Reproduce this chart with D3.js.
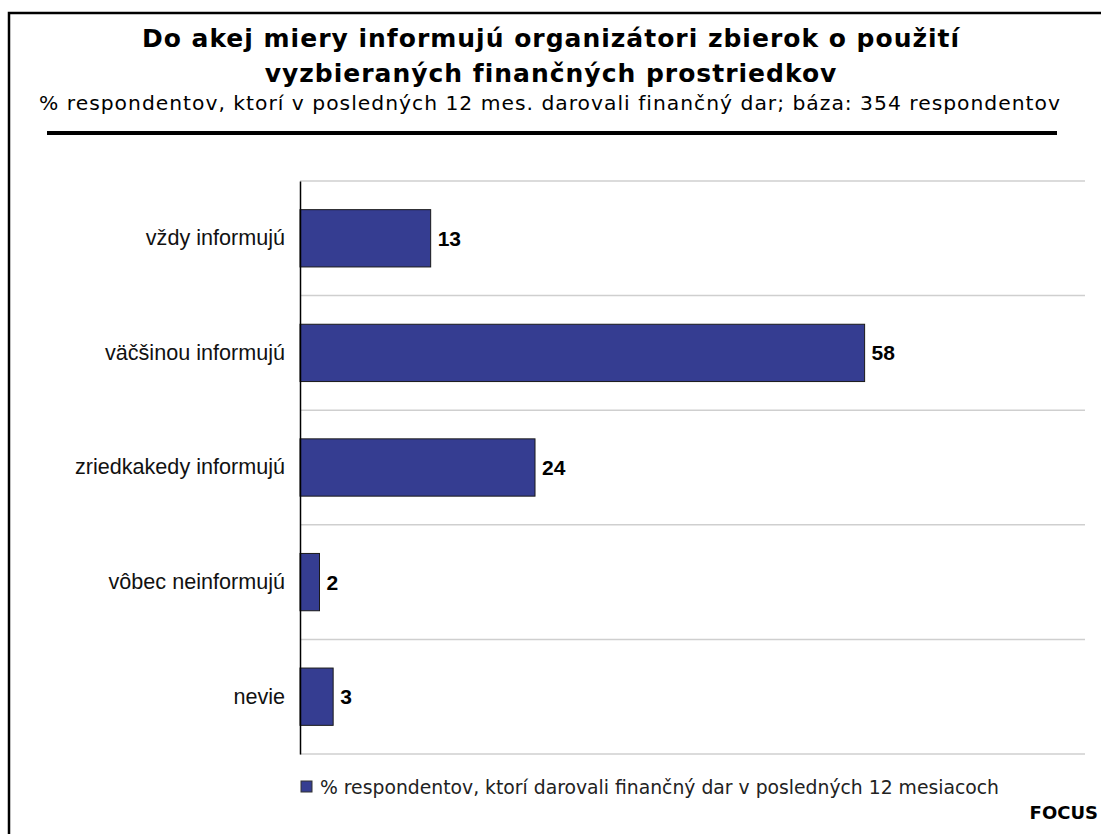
<!DOCTYPE html>
<html>
<head>
<meta charset="utf-8">
<script src="https://cdn.jsdelivr.net/npm/d3@7"></script>
<style>
  html, body { margin: 0; padding: 0; background: #fff; }
  svg { display: block; }
</style>
</head>
<body>
<script>
// ---- data ----
const categories = ["vždy informujú", "väčšinou informujú", "zriedkakedy informujú", "vôbec neinformujú", "nevie"];
const values = [13.4, 57.9, 24.1, 2.0, 3.4];
const valueLabels = ["13", "58", "24", "2", "3"];
const titleLines = ["Do akej miery informujú organizátori zbierok o použití", "vyzbieraných finančných prostriedkov"];
const subtitle = "% respondentov, ktorí v posledných 12 mes. darovali finančný dar; báza: 354 respondentov";
const seriesName = "% respondentov, ktorí darovali finančný dar v posledných 12 mesiacoch";
const source = "FOCUS";

const W = 1101, H = 834;
const svg = d3.select("body").append("svg").attr("width", W).attr("height", H);

// frame
svg.append("path")
  .attr("d", `M9,${H + 5} L9,13 L${W + 5},13`)
  .attr("fill", "none").attr("stroke", "#000").attr("stroke-width", 2.5);

// titles
const verd = "'DejaVu Sans', Verdana, sans-serif";
const arial = "'Liberation Sans', Arial, sans-serif";
svg.selectAll("text.title").data(titleLines).join("text")
  .attr("class", "title")
  .attr("x", 551).attr("y", (d, i) => 47 + i * 35)
  .attr("text-anchor", "middle")
  .style("font-family", verd).style("font-weight", "bold").style("font-size", "25px")
  .style("letter-spacing", "1px")
  .text(d => d);
svg.append("text")
  .attr("x", 550).attr("y", 110)
  .attr("text-anchor", "middle")
  .style("font-family", verd).style("font-size", "20.3px")
  .style("letter-spacing", "1px")
  .text(subtitle);
svg.append("line")
  .attr("x1", 47).attr("x2", 1057).attr("y1", 133).attr("y2", 133)
  .attr("stroke", "#000").attr("stroke-width", 4);

// scales
const plot = { left: 300, right: 1085, top: 181, bottom: 754 };
const x = d3.scaleLinear().domain([0, 80.5]).range([plot.left, plot.right]);
const y = d3.scaleBand().domain(categories).range([plot.top, plot.bottom]).paddingInner(0.5).paddingOuter(0.25);
const yGrid = d3.scaleBand().domain(categories).range([plot.top, plot.bottom]);

// gridlines at band boundaries
const gridYs = categories.map(c => yGrid(c)).concat([plot.bottom]);
svg.selectAll("line.grid").data(gridYs).join("line")
  .attr("class", "grid")
  .attr("x1", plot.left).attr("x2", plot.right)
  .attr("y1", d => d).attr("y2", d => d)
  .attr("stroke", "#cfcfcf").attr("stroke-width", 1.5);

// bars
const data = categories.map((c, i) => ({ c, v: values[i], l: valueLabels[i] }));
svg.selectAll("rect.bar").data(data).join("rect")
  .attr("class", "bar")
  .attr("x", x(0)).attr("y", d => y(d.c))
  .attr("width", d => x(d.v) - x(0)).attr("height", y.bandwidth())
  .attr("fill", "#353d91").attr("stroke", "#1a1a1a").attr("stroke-width", 1);

// value labels
svg.selectAll("text.val").data(data).join("text")
  .attr("class", "val")
  .attr("x", d => x(d.v) + 7).attr("y", d => y(d.c) + y.bandwidth() / 2)
  .attr("dy", "0.36em")
  .style("font-family", arial).style("font-weight", "bold").style("font-size", "21px")
  .text(d => d.l);

// y axis
const yAxis = d3.axisLeft(yGrid).tickSize(0).tickPadding(15);
const ga = svg.append("g").attr("transform", `translate(${plot.left},0)`).call(yAxis);
ga.select(".domain").attr("stroke", "#000").attr("stroke-width", 1.5);
ga.selectAll("text").style("font-family", arial).style("font-size", "21.6px").attr("fill", "#111");

// legend
svg.append("rect").attr("x", 301).attr("y", 781).attr("width", 11).attr("height", 11)
  .attr("fill", "#353d91").attr("stroke", "#333").attr("stroke-width", 1);
svg.append("text").attr("x", 320).attr("y", 787).attr("dy", "0.35em")
  .style("font-family", verd).style("font-size", "18.8px").attr("fill", "#222")
  .text(seriesName);

// source
svg.append("text").attr("x", 1098).attr("y", 819).attr("text-anchor", "end")
  .style("font-family", verd).style("font-weight", "bold").style("font-size", "18px")
  .text(source);
</script>
</body>
</html>
